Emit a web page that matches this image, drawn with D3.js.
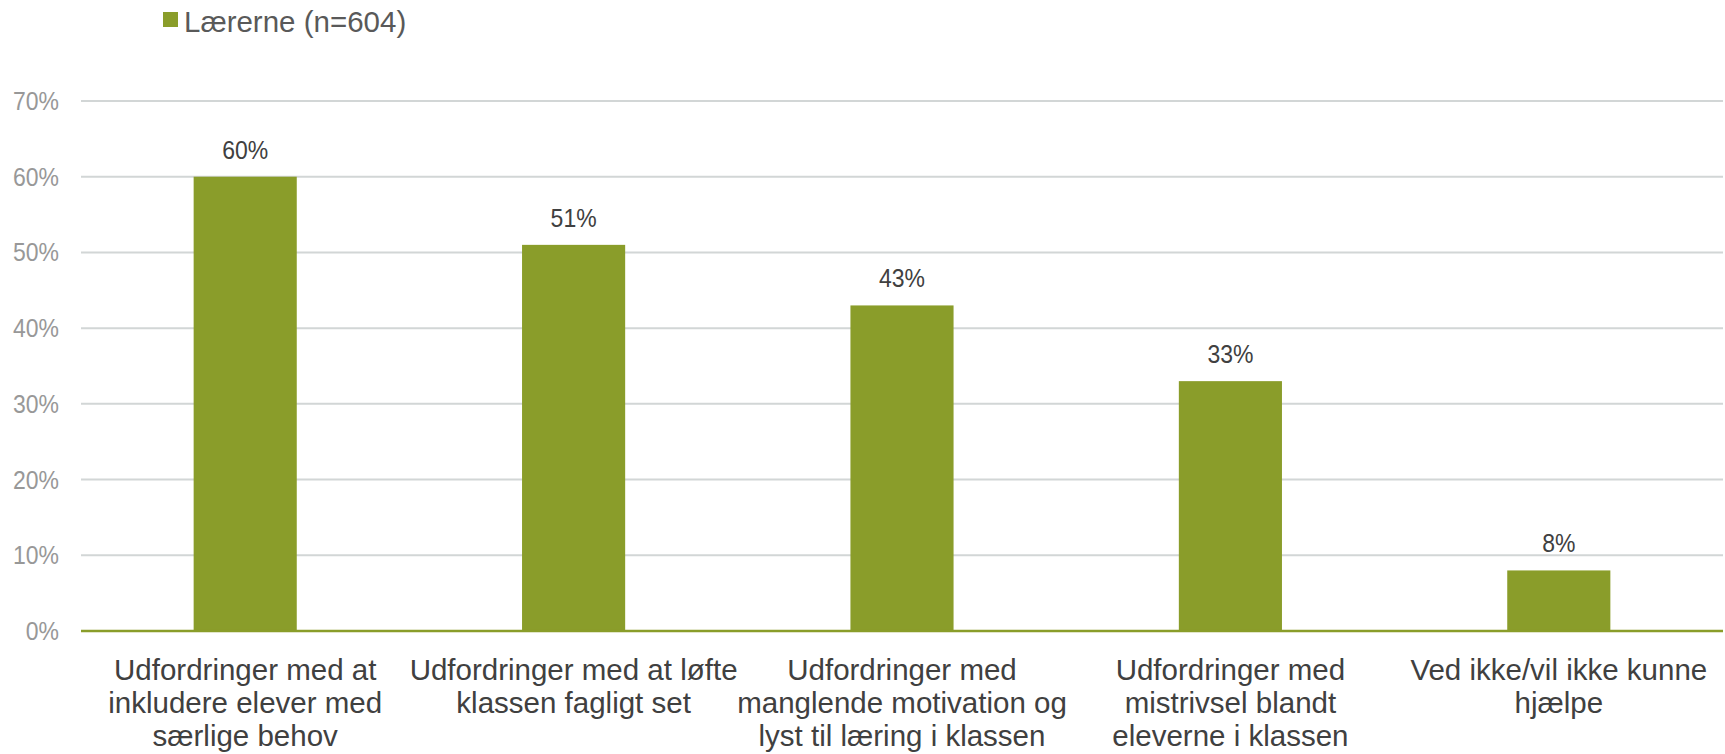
<!DOCTYPE html>
<html>
<head>
<meta charset="utf-8">
<script src="https://cdn.jsdelivr.net/npm/d3@7"></script>
<style>
  html, body { margin: 0; padding: 0; background: #fff; }
  svg { display: block; font-family: "Liberation Sans", Arial, sans-serif; }
</style>
</head>
<body>
<svg id="chart" width="1725" height="754"></svg>
<script>
const seriesName = "Lærerne (n=604)";
const categories = [
  ["Udfordringer med at", "inkludere elever med", "særlige behov"],
  ["Udfordringer med at løfte", "klassen fagligt set"],
  ["Udfordringer med", "manglende motivation og", "lyst til læring i klassen"],
  ["Udfordringer med", "mistrivsel blandt", "eleverne i klassen"],
  ["Ved ikke/vil ikke kunne", "hjælpe"]
];
const values = [60, 51, 43, 33, 8];
const yTicks = [0, 10, 20, 30, 40, 50, 60, 70];

const svg = d3.select("#chart");
const pLeft = 81, pRight = 1723, pTop = 101, pBottom = 631;
const barColor = "#8a9d2a";

const x = d3.scaleBand().domain(d3.range(values.length)).range([pLeft, pRight]).paddingInner(0.686).paddingOuter(0.343);
const y = d3.scaleLinear().domain([0, 70]).range([pBottom, pTop]);

// gridlines
svg.append("g").selectAll("line").data(yTicks.filter(d => d > 0)).join("line")
  .attr("x1", pLeft).attr("x2", pRight)
  .attr("y1", d => y(d)).attr("y2", d => y(d))
  .attr("stroke", "#d2d6d6").attr("stroke-width", 2);

// y axis labels
const yAxis = d3.axisLeft(y).tickValues(yTicks).tickFormat(d => d + "%").tickSize(0).tickPadding(0);
const ya = svg.append("g").attr("transform", `translate(${pLeft - 22},0)`).call(yAxis);
ya.select(".domain").remove();
ya.attr("font-family", null).attr("font-size", null);
ya.selectAll("text").attr("fill", "#989898").style("font-size", "25px")
  .attr("dy", "0.34em").attr("transform", "scale(0.92,1)");

// bars
svg.append("g").selectAll("rect").data(values).join("rect")
  .attr("x", (d, i) => x(i)).attr("width", x.bandwidth())
  .attr("y", d => y(d)).attr("height", d => y(0) - y(d))
  .attr("fill", barColor);

// baseline axis
svg.append("line").attr("x1", pLeft).attr("x2", pRight)
  .attr("y1", y(0)).attr("y2", y(0))
  .attr("stroke", barColor).attr("stroke-width", 2.5);

// data labels
svg.append("g").selectAll("text").data(values).join("text")
  .attr("transform", (d, i) => `translate(${x(i) + x.bandwidth() / 2},${y(d) - 18}) scale(0.92,1)`)
  .attr("text-anchor", "middle")
  .attr("fill", "#404040").style("font-size", "25px")
  .text(d => d + "%");

// category labels
const cat = svg.append("g").selectAll("text").data(categories).join("text")
  .attr("x", (d, i) => x(i) + x.bandwidth() / 2)
  .attr("y", 680)
  .attr("text-anchor", "middle")
  .attr("fill", "#404040").style("font-size", "29.5px");
cat.selectAll("tspan").data(d => d).join("tspan")
  .attr("x", function() { return d3.select(this.parentNode).attr("x"); })
  .attr("dy", (d, i) => i === 0 ? 0 : 33)
  .text(d => d);

// legend
const lg = svg.append("g");
lg.append("rect").attr("x", 163).attr("y", 12).attr("width", 15).attr("height", 15).attr("fill", barColor);
lg.append("text").attr("x", 184).attr("y", 32).attr("fill", "#595959").style("font-size", "29.5px").text(seriesName);
</script>
</body>
</html>
